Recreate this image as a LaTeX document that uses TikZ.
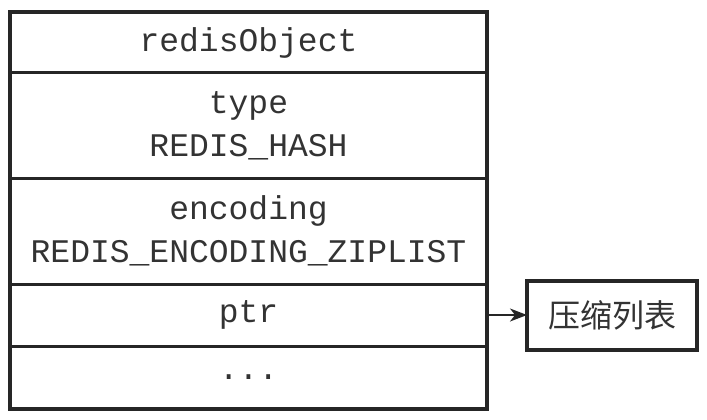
\documentclass[tikz,border=0pt]{standalone}
\usepackage{fontspec}
\setmonofont{Liberation Mono}
\newfontfamily\cjk{Noto Sans CJK SC}
\usetikzlibrary{positioning,arrows.meta}
\begin{document}
\begin{tikzpicture}[>={Stealth[length=17pt,width=13pt,inset=5pt]}, x=1pt, y=-1pt,
    field/.style={draw=black!85, line width=3pt, minimum width=477pt, outer sep=0pt, inner sep=0pt,
        align=center, text=black!80, font=\ttfamily\fontsize{33}{43}\selectfont},
    target/.style={draw=black!85, line width=4pt, minimum width=170pt, minimum height=69pt,
        outer sep=0pt, text=black!80, font=\cjk\fontsize{32}{36}\selectfont}]
\useasboundingbox (0,0) rectangle (707,420);
\node[field, minimum height=61pt, anchor=north west] (obj) at (10,12) {redisObject};
\node[field, minimum height=105pt, below=0pt of obj] (type) {type\\REDIS\_HASH};
\node[field, minimum height=106pt, below=0pt of type] (enc) {encoding\\REDIS\_ENCODING\_ZIPLIST};
\node[field, minimum height=62pt, below=0pt of enc] (ptr) {ptr};
\node[field, minimum height=63pt, below=0pt of ptr] (more) {...};
\draw[draw=black!85, line width=4pt] (obj.north west) rectangle (more.south east);

\node[target, right=40pt of ptr] (zip) {压缩列表};
\draw[->, draw=black!85, line width=1.5pt] (ptr.east) -- (zip.west);
\end{tikzpicture}
\end{document}
